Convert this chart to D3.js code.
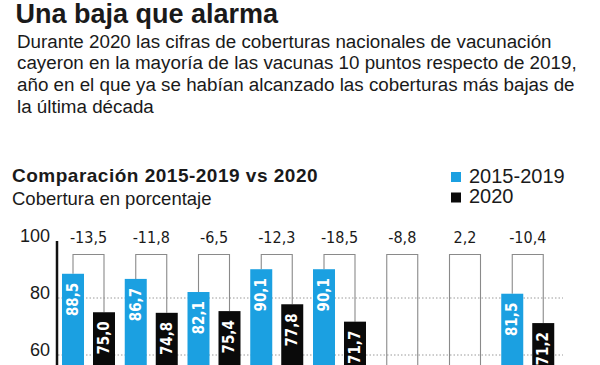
<!DOCTYPE html>
<html>
<head>
<meta charset="utf-8">
<script src="https://cdn.jsdelivr.net/npm/d3@7"></script>
<style>
  body { margin: 0; background: #fff; }
  svg { display: block; }
  text { font-family: "Liberation Sans", Arial, sans-serif; fill: #1a1a1a; }
  .narrow { font-family: "Liberation Sans Narrow", "DejaVu Sans Condensed", "Liberation Sans", sans-serif; }
</style>
</head>
<body>
<svg id="chart" width="600" height="365"></svg>
<script>
// data (vaccine names are cut off below the frame)
const categories = ["c1", "c2", "c3", "c4", "c5", "c6", "c7", "c8"];
const seriesNames = ["2015-2019", "2020"];
const avg2015_2019 = [88.5, 86.7, 82.1, 90.1, 90.1, null, null, 81.5];
const val2020 = [75.0, 74.8, 75.4, 77.8, 71.7, null, null, 71.2];
const diffs = [-13.5, -11.8, -6.5, -12.3, -18.5, -8.8, 2.2, -10.4];
const yTicks = [60, 80, 100];
const gridTicks = [60, 80];
const colors = ["#1ba0e1", "#0a0a0a"];

const titleText = "Una baja que alarma";
const subtitleLines = [
  "Durante 2020 las cifras de coberturas nacionales de vacunación",
  "cayeron en la mayoría de las vacunas 10 puntos respecto de 2019,",
  "año en el que ya se habían alcanzado las coberturas más bajas de",
  "la última década"
];
const chartTitle = "Comparación 2015-2019 vs 2020";
const chartSub = "Cobertura en porcentaje";

const fmt = v => v.toFixed(1).replace(".", ",");

const svg = d3.select("#chart");
const width = +svg.attr("width");
const height = +svg.attr("height");

svg.append("rect").attr("width", width).attr("height", height).attr("fill", "#fff");

// header
svg.append("text")
  .attr("x", 15.5).attr("y", 23)
  .attr("font-size", 27).attr("font-weight", "bold")
  .attr("fill", "#111")
  .text(titleText);

svg.append("text")
  .attr("font-size", 18.8)
  .attr("fill", "#222")
  .selectAll("tspan")
  .data(subtitleLines)
  .enter()
  .append("tspan")
  .attr("x", 17)
  .attr("y", (d, i) => 47.5 + i * 21.8)
  .text(d => d);

svg.append("text")
  .attr("x", 12).attr("y", 182)
  .attr("font-size", 19).attr("font-weight", "bold")
  .attr("letter-spacing", 0.5)
  .attr("fill", "#111")
  .text(chartTitle);

svg.append("text")
  .attr("x", 12).attr("y", 205)
  .attr("font-size", 18.5)
  .attr("fill", "#222")
  .text(chartSub);

// legend
const legend = svg.append("g").selectAll("g")
  .data(seriesNames)
  .enter()
  .append("g")
  .attr("transform", (d, i) => `translate(451,${172 + i * 20.5})`);

legend.append("rect")
  .attr("width", 10).attr("height", 10)
  .attr("fill", (d, i) => colors[i]);

legend.append("text")
  .attr("x", 18).attr("y", 10.5)
  .attr("font-size", 20)
  .attr("fill", "#222")
  .text(d => d);

// scales
const x = d3.scaleBand().domain(categories).range([55, 557]);
const xs = d3.scaleBand().domain(seriesNames).range([7, 60]).paddingInner(0.29);
const y = d3.scaleLinear().domain([0, 100]).range([526, 241]);

const rows = categories.map((c, i) => ({
  cat: c,
  vals: [avg2015_2019[i], val2020[i]],
  diff: diffs[i]
}));

// grid
svg.append("g")
  .selectAll("line")
  .data(gridTicks)
  .enter()
  .append("line")
  .attr("x1", 58).attr("x2", 563)
  .attr("y1", d => y(d)).attr("y2", d => y(d))
  .attr("stroke", "#9a9a9a")
  .attr("stroke-width", 1)
  .attr("stroke-dasharray", "1.5,2");

// y axis
const yAxis = svg.append("g")
  .attr("transform", "translate(57,0)")
  .call(d3.axisLeft(y).tickValues(yTicks).tickSize(0).tickPadding(7));
yAxis.select(".domain").remove();
yAxis.selectAll("text")
  .attr("dy", "0.05em")
  .attr("font-size", 18)
  .attr("font-family", "\"Liberation Sans\", Arial, sans-serif")
  .attr("fill", "#222");

svg.append("line")
  .attr("x1", 57).attr("x2", 57)
  .attr("y1", y(100)).attr("y2", y(0))
  .attr("stroke", "#111")
  .attr("stroke-width", 2.5);

// brackets with differences
const bw = xs.bandwidth();
const bracketTop = 254.5;
const groups = svg.append("g").selectAll("g")
  .data(rows)
  .enter()
  .append("g")
  .attr("transform", d => `translate(${x(d.cat)},0)`);

groups.append("path")
  .attr("fill", "none")
  .attr("stroke", "#8a8a8a")
  .attr("stroke-width", 1.1)
  .attr("d", d => {
    const lx = xs(seriesNames[0]) + bw / 2;
    const rx = xs(seriesNames[1]) + bw / 2;
    const ly = d.vals[0] == null ? y(0) : y(d.vals[0]);
    const ry = d.vals[1] == null ? y(0) : y(d.vals[1]);
    return `M${lx},${ly}V${bracketTop}H${rx}V${ry}`;
  });

groups.append("text")
  .attr("class", "narrow")
  .attr("x", (xs(seriesNames[0]) + xs(seriesNames[1]) + bw) / 2)
  .attr("y", 243)
  .attr("text-anchor", "middle")
  .attr("font-size", 16)
  .attr("fill", "#222")
  .text(d => fmt(d.diff));

// bars
const bars = groups.selectAll("g.bar")
  .data(d => d.vals.map((v, i) => ({ v, s: seriesNames[i], i })).filter(e => e.v != null))
  .enter()
  .append("g")
  .attr("class", "bar");

bars.append("rect")
  .attr("x", d => xs(d.s))
  .attr("y", d => y(d.v))
  .attr("width", bw)
  .attr("height", d => y(0) - y(d.v))
  .attr("fill", d => colors[d.i]);

bars.append("text")
  .attr("class", "narrow")
  .attr("transform", d => `translate(${xs(d.s) + bw / 2},${y(d.v) + 9}) rotate(-90)`)
  .attr("text-anchor", "end")
  .attr("dominant-baseline", "central")
  .attr("font-size", 15)
  .attr("font-weight", "bold")
  .style("fill", "#fff")
  .text(d => fmt(d.v));
</script>
</body>
</html>
